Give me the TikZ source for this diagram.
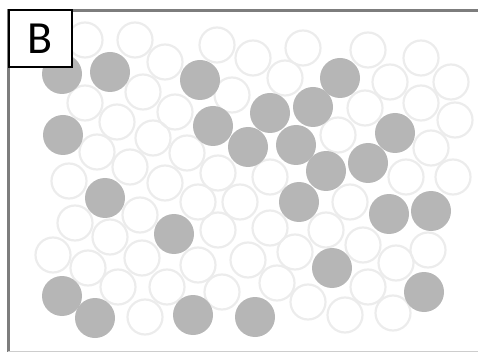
\documentclass[tikz,border=0pt]{standalone}
\usepackage{fontspec}
\setmainfont{Carlito}
\definecolor{FrameGray}{RGB}{125,125,125}
\definecolor{EdgeGray}{RGB}{205,205,205}
\definecolor{BeadGray}{RGB}{182,182,182}
\definecolor{RingGray}{RGB}{236,236,236}

\begin{document}
\begin{tikzpicture}[x=1pt, y=-1pt]
  \useasboundingbox (0,0) rectangle (478,352);
  % frame
  \draw[FrameGray, line width=3] (8,352) -- (8,11) -- (478,11);
  \draw[EdgeGray, line width=1] (8,351) -- (478,351);
  % empty beads
  \foreach \x/\y in {85/40, 135/40, 165/62, 217/45, 253/58, 303/48, 368/50,
                     421/58, 285/78, 390/82, 451/82, 143/92, 232/95, 85/103,
                     117/122, 175/112, 365/108, 421/103, 455/120, 153/138,
                     338/135, 97/152, 187/153, 431/148, 130/167, 69/181,
                     218/173, 270/177, 406/177, 453/177, 165/183, 198/202,
                     240/202, 140/215, 75/223, 218/230, 110/237, 270/228,
                     350/202, 53/255, 142/258, 88/268, 198/265, 248/260,
                     295/252, 326/230, 363/245, 428/250, 396/263, 118/287,
                     167/287, 222/292, 277/283, 368/287, 308/302, 145/317,
                     345/315, 393/313} {
    \draw[RingGray, line width=2.2] (\x,\y) circle (17.5);
  }
  % filled beads
  \foreach \x/\y in {62/74, 110/72, 200/80, 340/78, 63/135, 213/126, 270/113,
                     313/107, 248/147, 296/145, 395/133, 368/163, 326/171,
                     105/198, 174/234, 299/202, 389/214, 431/211, 332/268,
                     424/292, 62/296, 95/318, 193/315, 255/317} {
    \fill[BeadGray] (\x,\y) circle (20);
  }
  % panel label
  \node[draw, line width=1.2, fill=white, minimum width=63, minimum height=57,
        inner sep=0, font=\fontsize{46}{46}\selectfont] (panelB) at (40.5,38.5) {B};
\end{tikzpicture}
\end{document}
